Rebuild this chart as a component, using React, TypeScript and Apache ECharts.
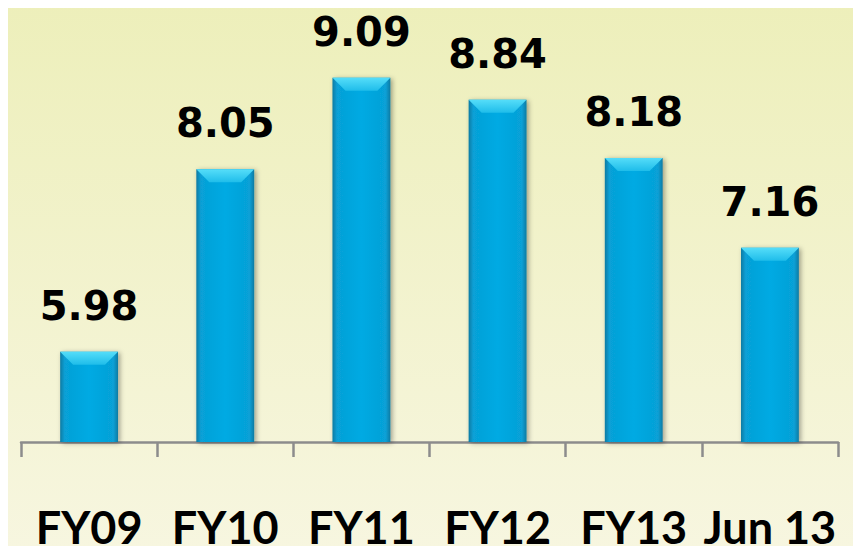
import React, { useEffect, useRef } from "react";
import * as echarts from "echarts";

const categories = ["FY09", "FY10", "FY11", "FY12", "FY13", "Jun 13"];
const values = [5.98, 8.05, 9.09, 8.84, 8.18, 7.16];
const axisMin = 4.955;
const axisMax = 9.95;

export default function App() {
  const ref = useRef<HTMLDivElement>(null);
  useEffect(() => {
    if (!ref.current) return;
    const chart = echarts.init(ref.current, null, { renderer: "svg" });
    const bodyGrad = new echarts.graphic.LinearGradient(0, 0, 1, 0, [
      { offset: 0, color: "#0A7BA3" },
      { offset: 0.08, color: "#07A0D6" },
      { offset: 0.5, color: "#03AAE3" },
      { offset: 0.92, color: "#07A0D6" },
      { offset: 1, color: "#0A7BA3" },
    ]);
    const option: any = {
      animation: false,
      backgroundColor: new echarts.graphic.LinearGradient(0, 0, 0, 1, [
        { offset: 0, color: "#EDEFBA" },
        { offset: 1, color: "#F7F6E0" },
      ]),
      grid: { left: 21, right: 23, top: 2, bottom: 112 },
      xAxis: {
        type: "category",
        data: categories,
        boundaryGap: true,
        axisLine: { show: true, lineStyle: { color: "#8C8C8C", width: 2.5 } },
        axisTick: {
          show: true,
          alignWithLabel: false,
          length: 15,
          lineStyle: { color: "#8C8C8C", width: 2.5 },
        },
        axisLabel: {
          show: true,
          interval: 0,
          margin: 62,
          lineHeight: 45,
          color: "#000000",
          fontFamily: "Lato",
          fontWeight: "bold",
          fontSize: 45,
        },
      },
      yAxis: {
        type: "value",
        min: axisMin,
        max: axisMax,
        show: false,
        splitLine: { show: false },
      },
      series: [
        {
          type: "bar",
          data: values,
          barWidth: "42.5%",
          itemStyle: {
            color: bodyGrad,
            shadowColor: "rgba(0,0,0,0.35)",
            shadowBlur: 5,
            shadowOffsetX: 2,
            shadowOffsetY: 1,
          },
          label: {
            show: true,
            position: "top",
            distance: 26,
            color: "#000000",
            fontFamily: "DejaVu Sans",
            fontWeight: "bold",
            fontSize: 40,
            formatter: (p: any) => p.value.toFixed(2),
          },
          z: 2,
        },
        {
          type: "custom",
          data: values.map((v, i) => [i, v]),
          encode: { x: 0, y: 1 },
          z: 3,
          silent: true,
          renderItem: (params: any, api: any) => {
            const top = api.coord([api.value(0), api.value(1)]);
            const band = api.size([1, 0])[0];
            const w = band * 0.425;
            const x = top[0] - w / 2;
            const y = top[1];
            const d = 13;
            return {
              type: "polygon",
              shape: {
                points: [
                  [x, y],
                  [x + w, y],
                  [x + w - d, y + d],
                  [x + d, y + d],
                ],
              },
              style: {
                fill: new echarts.graphic.LinearGradient(0, 0, 0, 1, [
                  { offset: 0, color: "#55DDF9" },
                  { offset: 1, color: "#1FBDEA" },
                ]),
              },
            };
          },
        },
      ],
    };
    chart.setOption(option);
    return () => chart.dispose();
  }, []);
  return <div ref={ref} style={{ width: 861, height: 554, margin: -8 }} />;
}
